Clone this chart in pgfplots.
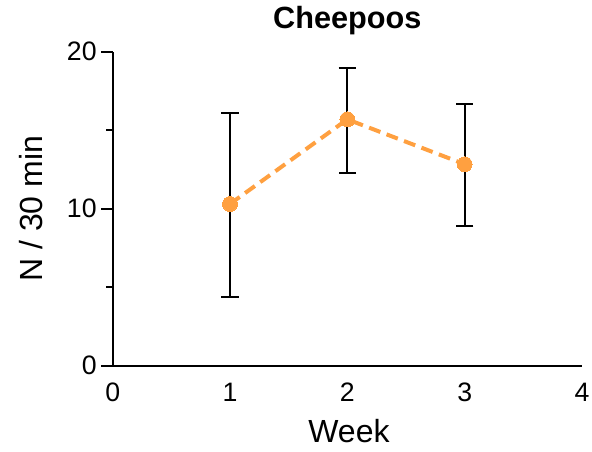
\documentclass[border=0pt]{standalone}
\usepackage{pgfplots}
\pgfplotsset{compat=1.18}
\usepackage{fontspec}
\setmainfont{Liberation Sans}
\definecolor{orng}{RGB}{255,160,64}
\begin{document}
\begin{tikzpicture}
\useasboundingbox (0,0) rectangle (444pt,338.25pt);
\begin{axis}[
  at={(84.5pt,64pt)}, anchor=origin,
  scale only axis, width=352pt, height=235.5pt,
  xmin=0, xmax=4, ymin=0, ymax=20,
  axis x line=bottom, axis y line=left,
  axis line style={line width=1.5pt, -},
  xtick={0,1,2,3,4}, ytick={0,10,20}, minor ytick={5,15},
  x tick style={draw=none},
  y tick style={line width=1.5pt, black},
  tick align=outside,
  major tick length=8.5pt, minor tick length=5pt,
  /pgf/number format/assume math mode=true,
  tick label style={font=\fontsize{20}{24}\selectfont},
  xticklabel style={yshift=-1pt},
  yticklabel style={xshift=0pt},
  title={\textbf{Cheepoos}},
  title style={font=\fontsize{23}{28}\selectfont, at={(axis description cs:0.5,1.047)}, anchor=base},
  xlabel={Week},
  xlabel style={font=\fontsize{24}{29}\selectfont, at={(axis description cs:0.5035,-0.246)}, anchor=base},
  ylabel={N / 30 min},
  ylabel style={font=\fontsize{24}{29}\selectfont, at={(axis description cs:-0.1485,0.5)}, anchor=base, rotate=0},
  clip=false,
]
\addplot[color=orng, line width=3pt, dash pattern=on 9pt off 5pt,
  mark=*, mark size=5.6pt, mark options={solid, fill=orng, draw=orng, line width=0pt},
  error bars/.cd, y dir=both, y explicit,
  error bar style={black, line width=1.5pt, solid},
  error mark options={black, rotate=90, mark size=6.5pt, line width=1.5pt, solid}]
coordinates {
  (1,10.30) += (0,5.81) -= (0,5.95)
  (2,15.69) += (0,3.29) -= (0,3.42)
  (3,12.83) += (0,3.86) -= (0,3.95)
};
\end{axis}
\end{tikzpicture}
\end{document}
